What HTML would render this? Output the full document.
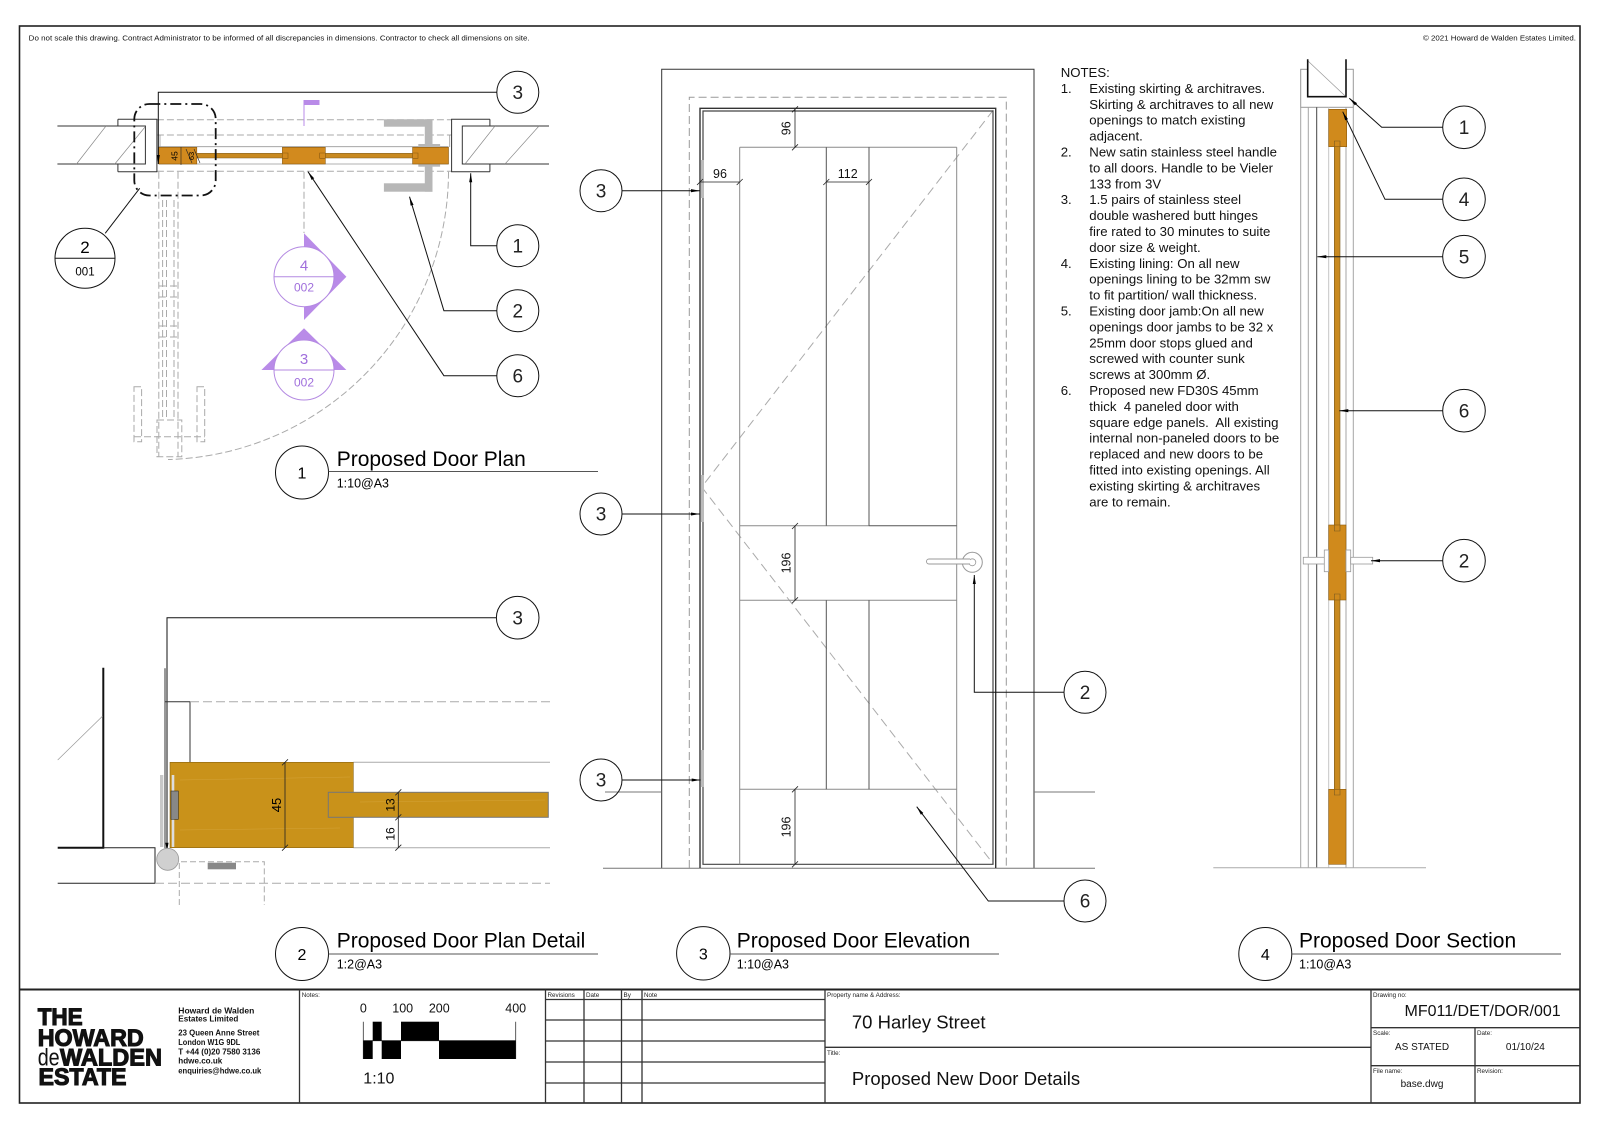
<!DOCTYPE html>
<html><head><meta charset="utf-8"><title>Proposed New Door Details</title><style>
html,body{margin:0;padding:0;background:#fff;}
svg{display:block;font-family:"Liberation Sans",Arial,sans-serif;}
</style></head><body>
<svg width="1600" height="1131" viewBox="0 0 1600 1131" xmlns="http://www.w3.org/2000/svg">
<defs>
<marker id="ar" viewBox="0 0 10 4" refX="10" refY="2" markerWidth="9" markerHeight="3.6" orient="auto" markerUnits="userSpaceOnUse"><path d="M0,0.3 L10,2 L0,3.7z" fill="#000"/></marker>
</defs>
<rect width="1600" height="1131" fill="#fff"/>
<!-- Frame -->
<rect x="19.5" y="26" width="1560.5" height="1077" fill="none" stroke="#222" stroke-width="1.6"/>
<text x="28.7" y="40.7" font-size="7.2" textLength="501" lengthAdjust="spacingAndGlyphs" fill="#111">Do not scale this drawing. Contract Administrator to be informed of all discrepancies in dimensions. Contractor to check all dimensions on site.</text>
<text x="1576" y="40.7" font-size="7.2" text-anchor="end" textLength="153" lengthAdjust="spacingAndGlyphs" fill="#111">© 2021 Howard de Walden Estates Limited.</text>

<!-- ============ VIEW 1 : PLAN ============ -->
<g fill="none" stroke="#aaa" stroke-width="1" stroke-dasharray="7 3">
<path d="M156.9 119.8H451.6M156.9 135H451.6M156.9 171.2H451.6"/>
<path d="M304 171.7V233"/>
<path d="M448.5 171.7A288 288 0 0 1 168 459.5"/>
<path d="M158.8 171.7V456.7M178 171.7V456.7M162.6 200V420M166.5 200V420M174 200V420"/>
<path d="M158.8 286H166.5M170 286H178M158.8 297H166.5M170 297H178M158.8 326H166.5M170 326H178M158.8 337H166.5M170 337H178"/>
<path d="M134 386.7h7.6v55h-7.6zM197 386.7h7.7v55h-7.7zM134 436.7H205M157 420h24.8v36.7H157z"/>
</g>
<g fill="none" stroke="#333" stroke-width="1">
<path d="M57.4 126H145.4V164H57.4"/>
<path d="M117.9 119.3H156.9V171.7H117.9M117.9 119.3V126M117.9 164V171.7"/>
<path d="M549 126H462.3V164H549"/>
<path d="M489.9 119.3H451.6V171.7H489.9M489.9 119.3V126M489.9 164V171.7"/>
</g>
<g stroke="#888" stroke-width="0.7">
<path d="M76.5 164L106 126M114.8 164L145 127M465 164L495 126M505 164L539 126"/>
</g>
<path d="M158.8 146.7H448.5M158.8 164H448.5M160 135V147M449.7 135V147" stroke="#999" stroke-width="0.8" fill="none"/>
<!-- grey handle -->
<g fill="#b7b7b7">
<rect x="383.9" y="119.3" width="48.6" height="7.4"/>
<rect x="424.8" y="119.3" width="7.7" height="72.4"/>
<rect x="383.9" y="183.3" width="48.6" height="8.4"/>
<rect x="418.3" y="144" width="21.8" height="22.7"/>
</g>
<!-- door leaf -->
<rect x="195" y="153.3" width="218" height="4.7" fill="#c98a20" stroke="#7a5a20" stroke-width="0.5"/>
<g fill="#d28a1e" stroke="#8a5a10" stroke-width="0.6">
<rect x="158.8" y="147.3" width="38" height="16.7"/>
<rect x="282.4" y="147.3" width="42.9" height="16.7"/>
<rect x="412.6" y="147.3" width="35.9" height="16.7"/>
</g>
<path d="M282.4 153H288V158.3H282.4M325.3 153H319.7V158.3H325.3M412.6 153H418V158.3H412.6" fill="none" stroke="#8a5a10" stroke-width="0.6"/>
<text transform="translate(174.5,156) rotate(-90)" font-size="8.5" text-anchor="middle" dy="3">45</text>
<text transform="translate(191,156) rotate(-90)" font-size="7.5" text-anchor="middle" dy="3">63</text>
<path d="M181 147V165M186 149L192 163M194 149L200 163" stroke="#222" stroke-width="0.6"/>
<!-- purple flag -->
<rect x="303.5" y="100" width="16" height="5" fill="#b98be8"/>
<path d="M304 105V126" stroke="#b98be8" stroke-width="1"/>
<!-- section marker 4 -->
<polygon points="304,233.3 346.4,276.7 304,320" fill="#b98be8"/>
<circle cx="304" cy="276.7" r="30" fill="#fff" stroke="#b48ae2" stroke-width="1"/>
<path d="M274 276.7H334" stroke="#b48ae2" stroke-width="1"/>
<text x="304" y="270.5" font-size="15" text-anchor="middle" fill="#a06fdc">4</text>
<text x="304" y="291.3" font-size="12" text-anchor="middle" fill="#a06fdc">002</text>
<!-- section marker 3 -->
<polygon points="304,328.3 346.4,370 261.4,370" fill="#b98be8"/>
<circle cx="304" cy="370" r="30" fill="#fff" stroke="#b48ae2" stroke-width="1"/>
<path d="M274 370H334" stroke="#b48ae2" stroke-width="1"/>
<text x="304" y="363.8" font-size="15" text-anchor="middle" fill="#a06fdc">3</text>
<text x="304" y="386.5" font-size="12" text-anchor="middle" fill="#a06fdc">002</text>
<!-- dash-dot detail box -->
<rect x="134.3" y="104" width="81.4" height="91.5" rx="15" fill="none" stroke="#111" stroke-width="1.8" stroke-dasharray="11 4 2 4"/>
<!-- callout 2/001 -->
<path d="M105.2 233.3L139.7 188.3" stroke="#111" stroke-width="1"/>
<circle cx="85" cy="258.3" r="30" fill="#fff" stroke="#111" stroke-width="1"/>
<path d="M55 258.3H115" stroke="#111" stroke-width="1"/>
<text x="85" y="253" font-size="17" text-anchor="middle">2</text>
<text x="85" y="275.5" font-size="11.5" text-anchor="middle">001</text>
<!-- plan callouts -->
<g fill="none" stroke="#111" stroke-width="1">
<path d="M496.7 92.3H158.3V164" marker-end="url(#ar)"/>
<path d="M496.7 245.7H470.7V173.3" marker-end="url(#ar)"/>
<path d="M496.7 310.7H443.9L409.5 196.7" marker-end="url(#ar)"/>
<path d="M496.7 375.7H443.9L308 171.7" marker-end="url(#ar)"/>
<circle cx="517.8" cy="92.3" r="21"/>
<circle cx="517.8" cy="245.7" r="21"/>
<circle cx="517.8" cy="310.7" r="21"/>
<circle cx="517.8" cy="375.7" r="21"/>
</g>
<g font-size="19" text-anchor="middle" fill="#222">
<text x="517.8" y="99">3</text>
<text x="517.8" y="252.4">1</text>
<text x="517.8" y="317.4">2</text>
<text x="517.8" y="382.4">6</text>
</g>
<!-- title 1 -->
<circle cx="302" cy="472.5" r="26.5" fill="none" stroke="#111" stroke-width="1"/>
<text x="302" y="478.5" font-size="16" text-anchor="middle">1</text>
<path d="M328.5 471.5H598" stroke="#555" stroke-width="1"/>
<text x="336.7" y="466" font-size="21">Proposed Door Plan</text>
<text x="336.7" y="487.5" font-size="12.5">1:10@A3</text>

<!-- ============ VIEW 2 : PLAN DETAIL ============ -->
<path d="M496.4 617.7H167V851.7" fill="none" stroke="#111" stroke-width="1" marker-end="url(#ar)"/>
<circle cx="517.7" cy="617.7" r="21.3" fill="none" stroke="#111" stroke-width="1"/>
<text x="517.7" y="624.5" font-size="19" text-anchor="middle" fill="#222">3</text>
<path d="M103.3 667.7V847.7H57.7" fill="none" stroke="#111" stroke-width="2"/>
<path d="M57.7 760L102.7 716" stroke="#999" stroke-width="0.7"/>
<path d="M103.3 847.7H155V883.3H57.7" fill="none" stroke="#222" stroke-width="1"/>
<path d="M165 668.3V848.3M165 701.7H190V762.3" fill="none" stroke="#333" stroke-width="1"/>
<path d="M190 701.7H550M155 883.3H550" fill="none" stroke="#aaa" stroke-width="1" stroke-dasharray="9 4"/>
<path d="M353.3 762.3H550M353.3 847.7H550" stroke="#aaa" stroke-width="1"/>
<rect x="170" y="762.3" width="183.3" height="85.4" fill="#c9921a" stroke="#8a6510" stroke-width="0.6"/>
<rect x="328.3" y="792.3" width="220" height="25" fill="#c9921a" stroke="#777" stroke-width="1"/>
<path d="M180 780L350 777M180 830L340 828M360 802L545 800" stroke="#d9ab45" stroke-width="0.5" opacity="0.7"/>
<g stroke="#222" stroke-width="0.8">
<path d="M285 762.3V847.7M282 765.3L288 759.3M282 850.7L288 844.7"/>
<path d="M398.3 792.3V847.7M395.3 795.3L401.3 789.3M395.3 820.3L401.3 814.3M395.3 850.7L401.3 844.7"/>
</g>
<text transform="translate(276.7,805) rotate(-90)" font-size="13" text-anchor="middle" dy="4.5">45</text>
<text transform="translate(390.7,805) rotate(-90)" font-size="12" text-anchor="middle" dy="4">13</text>
<text transform="translate(390.7,834) rotate(-90)" font-size="12" text-anchor="middle" dy="4">16</text>
<rect x="160" y="775" width="3.3" height="72" fill="#c8c8c8"/>
<rect x="171.7" y="775" width="2.6" height="72" fill="#ddd"/>
<rect x="171" y="791" width="7.3" height="28.3" fill="#888" stroke="#333" stroke-width="0.6"/>
<path d="M179.3 905V861.7H264.3V905" fill="none" stroke="#aaa" stroke-width="1" stroke-dasharray="6 3"/>
<rect x="207.7" y="862.7" width="28.3" height="6.6" fill="#888"/>
<circle cx="167.7" cy="859.3" r="11" fill="#d0d0d0" stroke="#999" stroke-width="0.8"/>
<!-- title 2 -->
<circle cx="302" cy="954" r="26.5" fill="none" stroke="#111" stroke-width="1"/>
<text x="302" y="960" font-size="16" text-anchor="middle">2</text>
<path d="M328.5 954H598" stroke="#555" stroke-width="1"/>
<text x="336.7" y="947.3" font-size="21">Proposed Door Plan Detail</text>
<text x="336.7" y="968.5" font-size="12.5">1:2@A3</text>

<!-- ============ VIEW 3 : ELEVATION ============ -->
<path d="M661.7 868V69.3H1034V868" fill="none" stroke="#333" stroke-width="1"/>
<path d="M605 792H661.7M1034 792H1095M603 868.3H1095" stroke="#777" stroke-width="1"/>
<path d="M689.3 868V97.3H1006.3V868" fill="none" stroke="#999" stroke-width="1" stroke-dasharray="8 4"/>
<path d="M993.3 110L701.7 487L993.3 864" fill="none" stroke="#aaa" stroke-width="1" stroke-dasharray="9 5"/>
<path d="M700 868V108.3H995.7V868" fill="none" stroke="#333" stroke-width="1.4"/>
<path d="M703 864.3V111H993V864.3Z" fill="none" stroke="#444" stroke-width="1.2"/>
<g stroke="#8a8a8a" stroke-width="1" fill="none">
<path d="M739.7 147.3V864.3M956.7 147.3V864.3M739.7 147.3H956.7"/>
<path d="M739.7 525.7H869M739.7 600.3H956.7M739.7 789.3H956.7"/>
</g>
<g stroke="#555" stroke-width="1" fill="none">
<path d="M826.3 147.3V525.7M869 147.3V525.7M826.3 600.3V789.3M869 600.3V789.3M869 525.7H956.7"/>
</g>
<g fill="#bbb">
<rect x="700.7" y="160" width="3.3" height="38"/>
<rect x="700.7" y="475" width="3.3" height="47"/>
<rect x="700.7" y="750" width="3.3" height="37"/>
</g>
<!-- handle -->
<circle cx="972.3" cy="562.3" r="10" fill="#fff" stroke="#999" stroke-width="1"/>
<circle cx="972.3" cy="562.3" r="3.5" fill="none" stroke="#999" stroke-width="0.8"/>
<path d="M970 559H929a2.5 2.5 0 0 0 0 5H970" fill="#fff" stroke="#999" stroke-width="0.9"/>
<!-- dims -->
<g stroke="#222" stroke-width="0.8" fill="none">
<path d="M795 109.3V147.3M792 112.3L798 106.3M792 150.3L798 144.3"/>
<path d="M700 182H739.7M697 185L703 179M736.7 185L742.7 179"/>
<path d="M826.3 182H869M823.3 185L829.3 179M866 185L872 179"/>
<path d="M795 526V600.3M792 529L798 523M792 603.3L798 597.3"/>
<path d="M795 789.3V864.3M792 792.3L798 786.3M792 867.3L798 861.3"/>
</g>
<g font-size="12.5" fill="#111">
<text transform="translate(786,128.3) rotate(-90)" text-anchor="middle" dy="4.5">96</text>
<text x="720" y="178" text-anchor="middle">96</text>
<text x="847.7" y="178" text-anchor="middle">112</text>
<text transform="translate(786,563) rotate(-90)" text-anchor="middle" dy="4.5">196</text>
<text transform="translate(786,827) rotate(-90)" text-anchor="middle" dy="4.5">196</text>
</g>
<!-- elevation callouts -->
<g fill="none" stroke="#111" stroke-width="1">
<path d="M622 190.7H700" marker-end="url(#ar)"/>
<path d="M622 514H700" marker-end="url(#ar)"/>
<path d="M622 780H700.7" marker-end="url(#ar)"/>
<path d="M1064 692.3H974.3V575" marker-end="url(#ar)"/>
<path d="M1064 901H988.3L916.7 806.7" marker-end="url(#ar)"/>
<circle cx="601" cy="190.7" r="21"/>
<circle cx="601" cy="514" r="21"/>
<circle cx="601" cy="780" r="21"/>
<circle cx="1085" cy="692.3" r="21"/>
<circle cx="1085" cy="901" r="21"/>
</g>
<g font-size="19" text-anchor="middle" fill="#222">
<text x="601" y="197.4">3</text>
<text x="601" y="520.7">3</text>
<text x="601" y="786.7">3</text>
<text x="1085" y="699">2</text>
<text x="1085" y="907.7">6</text>
</g>
<!-- title 3 -->
<circle cx="703.3" cy="953.3" r="26.7" fill="none" stroke="#111" stroke-width="1"/>
<text x="703.3" y="959.3" font-size="16" text-anchor="middle">3</text>
<path d="M730 954H999" stroke="#555" stroke-width="1"/>
<text x="736.7" y="947.3" font-size="21">Proposed Door Elevation</text>
<text x="736.7" y="968.5" font-size="12.5">1:10@A3</text>

<!-- ============ NOTES ============ -->
<g font-size="13.2" fill="#111">
<text x="1060.7" y="77">NOTES:</text>
<text x="1060.7" y="92.9">1.</text><text x="1089.3" y="92.9">Existing skirting &amp; architraves.</text>
<text x="1089.3" y="108.8">Skirting &amp; architraves to all new</text>
<text x="1089.3" y="124.7">openings to match existing</text>
<text x="1089.3" y="140.6">adjacent.</text>
<text x="1060.7" y="156.5">2.</text><text x="1089.3" y="156.5">New satin stainless steel handle</text>
<text x="1089.3" y="172.4">to all doors. Handle to be Vieler</text>
<text x="1089.3" y="188.3">133 from 3V</text>
<text x="1060.7" y="204.2">3.</text><text x="1089.3" y="204.2">1.5 pairs of stainless steel</text>
<text x="1089.3" y="220.1">double washered butt hinges</text>
<text x="1089.3" y="236">fire rated to 30 minutes to suite</text>
<text x="1089.3" y="251.9">door size &amp; weight.</text>
<text x="1060.7" y="267.8">4.</text><text x="1089.3" y="267.8">Existing lining: On all new</text>
<text x="1089.3" y="283.7">openings lining to be 32mm sw</text>
<text x="1089.3" y="299.6">to fit partition/ wall thickness.</text>
<text x="1060.7" y="315.5">5.</text><text x="1089.3" y="315.5">Existing door jamb:On all new</text>
<text x="1089.3" y="331.4">openings door jambs to be 32 x</text>
<text x="1089.3" y="347.3">25mm door stops glued and</text>
<text x="1089.3" y="363.2">screwed with counter sunk</text>
<text x="1089.3" y="379.1">screws at 300mm Ø.</text>
<text x="1060.7" y="395">6.</text><text x="1089.3" y="395">Proposed new FD30S 45mm</text>
<text x="1089.3" y="410.9" xml:space="preserve">thick  4 paneled door with</text>
<text x="1089.3" y="426.8" xml:space="preserve">square edge panels.  All existing</text>
<text x="1089.3" y="442.7">internal non-paneled doors to be</text>
<text x="1089.3" y="458.6">replaced and new doors to be</text>
<text x="1089.3" y="474.5">fitted into existing openings. All</text>
<text x="1089.3" y="490.4">existing skirting &amp; architraves</text>
<text x="1089.3" y="506.3">are to remain.</text>
</g>

<!-- ============ VIEW 4 : SECTION ============ -->
<rect x="1300.7" y="69.3" width="52.6" height="38" fill="none" stroke="#999" stroke-width="1"/>
<rect x="1307.7" y="59.3" width="38.3" height="37.4" fill="#fff"/>
<path d="M1308 61L1346 96.7" stroke="#999" stroke-width="0.7"/>
<path d="M1307.7 59.3V96.7H1346V59.3" fill="none" stroke="#111" stroke-width="1.6"/>
<g stroke-width="1" fill="none">
<path d="M1300.7 107.3V868M1308.3 107.3V868M1353.3 107.3V868M1346 107.3V868" stroke="#a5a5a5"/>
<path d="M1316.7 107.3V868" stroke="#444"/>
<path d="M1328.7 107.3V868" stroke="#c5c5c5"/>
</g>
<path d="M1213.3 867.7H1426" stroke="#aaa" stroke-width="1"/>
<rect x="1334.3" y="140" width="5.7" height="724" fill="#c98a20" stroke="#7a5a20" stroke-width="0.6"/>
<g fill="#d08a1c" stroke="#8a5a10" stroke-width="0.6">
<rect x="1328.7" y="109.3" width="18" height="37.4"/>
<rect x="1328.7" y="525" width="17.3" height="75"/>
<rect x="1328.7" y="789.3" width="17.3" height="75"/>
</g>
<path d="M1334.3 146.7V141H1340V146.7M1334.3 525V531H1340V525M1334.3 600V594H1340V600M1334.3 789.3V795H1340V789.3" fill="none" stroke="#7a5a20" stroke-width="0.6"/>
<g fill="#fff" stroke="#999" stroke-width="0.8">
<rect x="1303.3" y="557.3" width="25" height="6.7"/>
<rect x="1324.3" y="550" width="4.4" height="21.7"/>
<rect x="1346" y="550" width="4.7" height="21.7"/>
<rect x="1350.7" y="557.3" width="22" height="6.7"/>
</g>
<g fill="none" stroke="#111" stroke-width="1">
<path d="M1442.7 127.3H1381.7L1349.3 98.3" marker-end="url(#ar)"/>
<path d="M1442.7 199.3H1385L1342.7 111.7" marker-end="url(#ar)"/>
<path d="M1442.7 256.7H1317.3" marker-end="url(#ar)"/>
<path d="M1442.7 410.7H1339.3" marker-end="url(#ar)"/>
<path d="M1442.7 560.7H1371" marker-end="url(#ar)"/>
<circle cx="1464" cy="127.3" r="21.3"/>
<circle cx="1464" cy="199.3" r="21.3"/>
<circle cx="1464" cy="256.7" r="21.3"/>
<circle cx="1464" cy="410.7" r="21.3"/>
<circle cx="1464" cy="560.7" r="21.3"/>
</g>
<g font-size="19" text-anchor="middle" fill="#222">
<text x="1464" y="134">1</text>
<text x="1464" y="206">4</text>
<text x="1464" y="263.4">5</text>
<text x="1464" y="417.4">6</text>
<text x="1464" y="567.4">2</text>
</g>
<!-- title 4 -->
<circle cx="1265.3" cy="954" r="26.5" fill="none" stroke="#111" stroke-width="1"/>
<text x="1265.3" y="960" font-size="16" text-anchor="middle">4</text>
<path d="M1292 954H1561" stroke="#555" stroke-width="1"/>
<text x="1299" y="947.3" font-size="21">Proposed Door Section</text>
<text x="1299" y="968.5" font-size="12.5">1:10@A3</text>

<!-- ============ TITLE BLOCK ============ -->
<path d="M19.5 989.5H1580" stroke="#222" stroke-width="2"/>
<g stroke="#333" stroke-width="1.3" fill="none">
<path d="M299.5 989.5V1103M545.5 989.5V1103M825 989.5V1103M1371 989.5V1103"/>
<path d="M584 989.5V1103M621.5 989.5V1103M642 989.5V1103"/>
<path d="M545.5 999.5H825M545.5 1020H825M545.5 1041H825M545.5 1062H825M545.5 1083H825"/>
<path d="M825 1047.3H1371M1371 1027.7H1580M1371 1065.7H1580M1475 1027.7V1103"/>
</g>
<!-- logo -->
<g fill="#111" stroke="#111" stroke-width="1.1" font-weight="bold" font-size="24">
<text x="37.7" y="1025" textLength="45" lengthAdjust="spacingAndGlyphs">THE</text>
<text x="37.7" y="1046" textLength="106" lengthAdjust="spacingAndGlyphs">HOWARD</text>
<text x="60" y="1065.3" textLength="102" lengthAdjust="spacingAndGlyphs">WALDEN</text>
<text x="38.5" y="1085" textLength="88" lengthAdjust="spacingAndGlyphs">ESTATE</text>
</g>
<text x="37.7" y="1065.3" font-size="24" fill="#111" textLength="22" lengthAdjust="spacingAndGlyphs">de</text>
<g font-size="8" font-weight="bold" fill="#111">
<text x="178.3" y="1013.3" textLength="76" lengthAdjust="spacingAndGlyphs">Howard de Walden</text>
<text x="178.3" y="1021.3" textLength="60" lengthAdjust="spacingAndGlyphs">Estates Limited</text>
<text x="178.3" y="1035.7" textLength="81" lengthAdjust="spacingAndGlyphs">23 Queen Anne Street</text>
<text x="178.3" y="1045" textLength="62" lengthAdjust="spacingAndGlyphs">London W1G 9DL</text>
<text x="178.3" y="1054.3" textLength="82" lengthAdjust="spacingAndGlyphs">T +44 (0)20 7580 3136</text>
<text x="178.3" y="1063.7" textLength="44" lengthAdjust="spacingAndGlyphs">hdwe.co.uk</text>
<text x="178.3" y="1073.3" textLength="83" lengthAdjust="spacingAndGlyphs">enquiries@hdwe.co.uk</text>
</g>
<!-- small labels -->
<g font-size="6.3" fill="#222">
<text x="301.7" y="997">Notes:</text>
<text x="547.5" y="997">Revisions</text>
<text x="586" y="997">Date</text>
<text x="623.5" y="997">By</text>
<text x="644" y="997">Note</text>
<text x="827" y="997">Property name &amp; Address:</text>
<text x="827" y="1055">Title:</text>
<text x="1373" y="997">Drawing no:</text>
<text x="1373" y="1035">Scale:</text>
<text x="1477" y="1035">Date:</text>
<text x="1373" y="1073">File name:</text>
<text x="1477" y="1073">Revision:</text>
</g>
<!-- scale bar -->
<g font-size="12.5" text-anchor="middle" fill="#111">
<text x="363.3" y="1012.3">0</text>
<text x="402.7" y="1012.3">100</text>
<text x="439.3" y="1012.3">200</text>
<text x="515.7" y="1012.3">400</text>
</g>
<path d="M363.3 1021.7V1059M515.7 1021.7V1059M363.3 1040.7H515.7" stroke="#333" stroke-width="0.8"/>
<g fill="#000">
<rect x="372.7" y="1021.7" width="9" height="19"/>
<rect x="401" y="1021.7" width="38" height="19"/>
<rect x="363.3" y="1040.7" width="9.4" height="18.3"/>
<rect x="381.7" y="1040.7" width="19.3" height="18.3"/>
<rect x="439" y="1040.7" width="76.7" height="18.3"/>
</g>
<text x="363.3" y="1083.3" font-size="16" fill="#111">1:10</text>
<!-- property / title -->
<text x="851.9" y="1028.3" font-size="18.5" fill="#111">70 Harley Street</text>
<text x="851.9" y="1085" font-size="18.5" fill="#111">Proposed New Door Details</text>
<text x="1560.7" y="1016" font-size="16" text-anchor="end" fill="#111">MF011/DET/DOR/001</text>
<text x="1422" y="1050" font-size="10" text-anchor="middle" fill="#111">AS STATED</text>
<text x="1525.4" y="1050" font-size="10" text-anchor="middle" fill="#111">01/10/24</text>
<text x="1422" y="1087" font-size="10" text-anchor="middle" fill="#111">base.dwg</text>
</svg>
</body></html>
